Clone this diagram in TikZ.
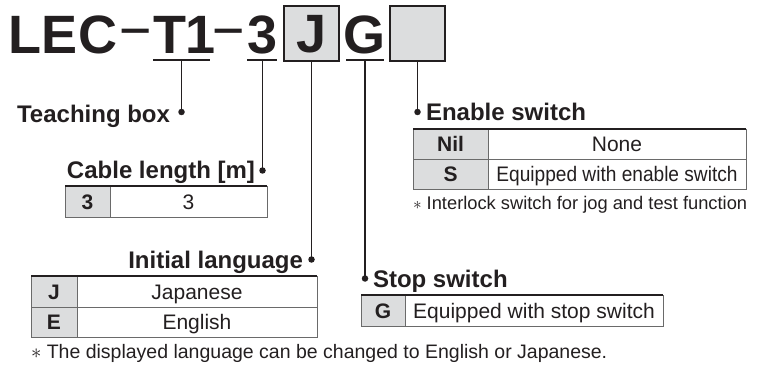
\documentclass[tikz,border=0pt]{standalone}
\usepackage{fontspec}
\setmainfont{Liberation Sans}
\definecolor{ink}{HTML}{231F20}
\definecolor{keyg}{HTML}{DCDDDE}
\definecolor{lineg}{HTML}{6A6A6A}
\begin{document}
\begin{tikzpicture}[x=1pt,y=-1pt,
 every node/.style={inner sep=0pt, outer sep=0pt, text=ink},
 title/.style={font=\bfseries\fontsize{54}{54}\selectfont, anchor=base},
 dashtxt/.style={font=\bfseries\fontsize{42}{42}\selectfont, anchor=base},
 codebox/.style={draw=ink, line width=1.6pt, fill=keyg, minimum width=55pt, minimum height=55pt, font=\bfseries\fontsize{54}{54}\selectfont, text height=39pt, text depth=0pt},
 uline/.style={draw=ink, line width=1.8pt},
 lead/.style={draw=ink, line width=1.8pt},
 bullet/.style={circle, fill=ink, minimum size=6.5pt},
 head/.style={font=\bfseries\fontsize{24}{24}\selectfont},
 cell/.style={draw=lineg, line width=0.9pt, minimum height=31pt, text height=15pt, text depth=0pt, font=\fontsize{21}{21}\selectfont},
 keycell/.style={cell, fill=keyg, font=\bfseries\fontsize{21}{21}\selectfont},
 topline/.style={draw=ink, line width=1.8pt},
 note/.style={font=\fontsize{18.3}{18.3}\selectfont, anchor=base west},
]
\useasboundingbox (0,0) rectangle (760,366);

% title
\node[title, anchor=base west] (lec) at (9,54) {LEC};
\node[dashtxt] (d1) at (136,42.5) {\scalebox{1.3}[1]{–}};
\node[title, anchor=base west] (t1) at (153,54) {T1};
\node[dashtxt] (d2) at (229,42.5) {\scalebox{1.3}[1]{–}};
\node[title] (c3) at (262.5,54) {3};
\node[codebox] (bJ) at (311.5,33.5) {J};
\node[title] (cG) at (364.5,54) {G};
\node[codebox] (bE) at (417.5,33.5) {};

% underlines
\draw[uline] (153,60) -- (210,60);
\draw[uline] (247,60) -- (277,60);
\draw[uline] (346,60) -- (384,60);
\coordinate (uT1) at (181.5,60);
\coordinate (u3) at (262.5,60);
\coordinate (uG) at (365,60);

% bullets
\node[bullet] (pT) at (181.5,112) {};
\node[bullet] (pC) at (262.5,170.5) {};
\node[bullet] (pI) at (311.5,259.5) {};
\node[bullet] (pS) at (365,278.5) {};
\node[bullet] (pE) at (417.5,112) {};

% leads
\draw[lead] (uT1) -- (pT.center);
\draw[lead] (u3) -- (pC.center);
\draw[lead] (bJ.south) -- (pI.center);
\draw[lead] (uG) -- (pS.center);
\draw[lead] (bE.south) -- (pE.center);

% headings
\node[head, anchor=base east] (hT) at (170,122.5) {Teaching box};
\node[head, anchor=base east] (hC) at (255,178.5) {Cable length [m]};
\node[head, anchor=base east] (hI) at (303,268) {Initial language};
\node[head, anchor=base west] (hS) at (373,287) {Stop switch};
\node[head, anchor=base west] (hE) at (426,121) {Enable switch};

% cable length table
\node[keycell, minimum width=45pt] (k3) at (87.5,201.5) {3};
\node[cell, minimum width=157pt] (v3) at (188.5,201.5) {3};
\draw[topline] (k3.north west) -- (v3.north east);

% initial language table
\node[keycell, minimum width=46pt] (kJ) at (54,291.5) {J};
\node[cell, minimum width=240pt] (vJ) at (197,291.5) {Japanese};
\node[keycell, minimum width=46pt, minimum height=30pt] (kEn) at (54,322) {E};
\node[cell, minimum width=240pt, minimum height=30pt] (vEn) at (197,322) {English};
\draw[topline] (kJ.north west) -- (vJ.north east);

% enable switch table
\node[keycell, minimum width=75pt, minimum height=30pt] (kN) at (450.5,144) {Nil};
\node[cell, minimum width=258pt, minimum height=30pt] (vN) at (617,144) {None};
\node[keycell, minimum width=75pt, minimum height=30pt] (kS) at (450.5,174) {S};
\node[cell, minimum width=258pt, minimum height=30pt] (vS) at (617,174) {\scalebox{0.91}[1]{Equipped with enable switch}};
\draw[topline] (kN.north west) -- (vN.north east);

% stop switch table
\node[keycell, minimum width=44pt] (kG) at (383,310.5) {G};
\node[cell, minimum width=258pt] (vG) at (534,310.5) {Equipped with stop switch};
\draw[topline] (kG.north west) -- (vG.north east);

% notes
\node[note] (nE) at (413,209) {$\ast$ Interlock switch for jog and test function};
\node[note, font=\fontsize{19.5}{19.5}\selectfont] (nL) at (31,358) {$\ast$ The displayed language can be changed to English or Japanese.};
\end{tikzpicture}
\end{document}
